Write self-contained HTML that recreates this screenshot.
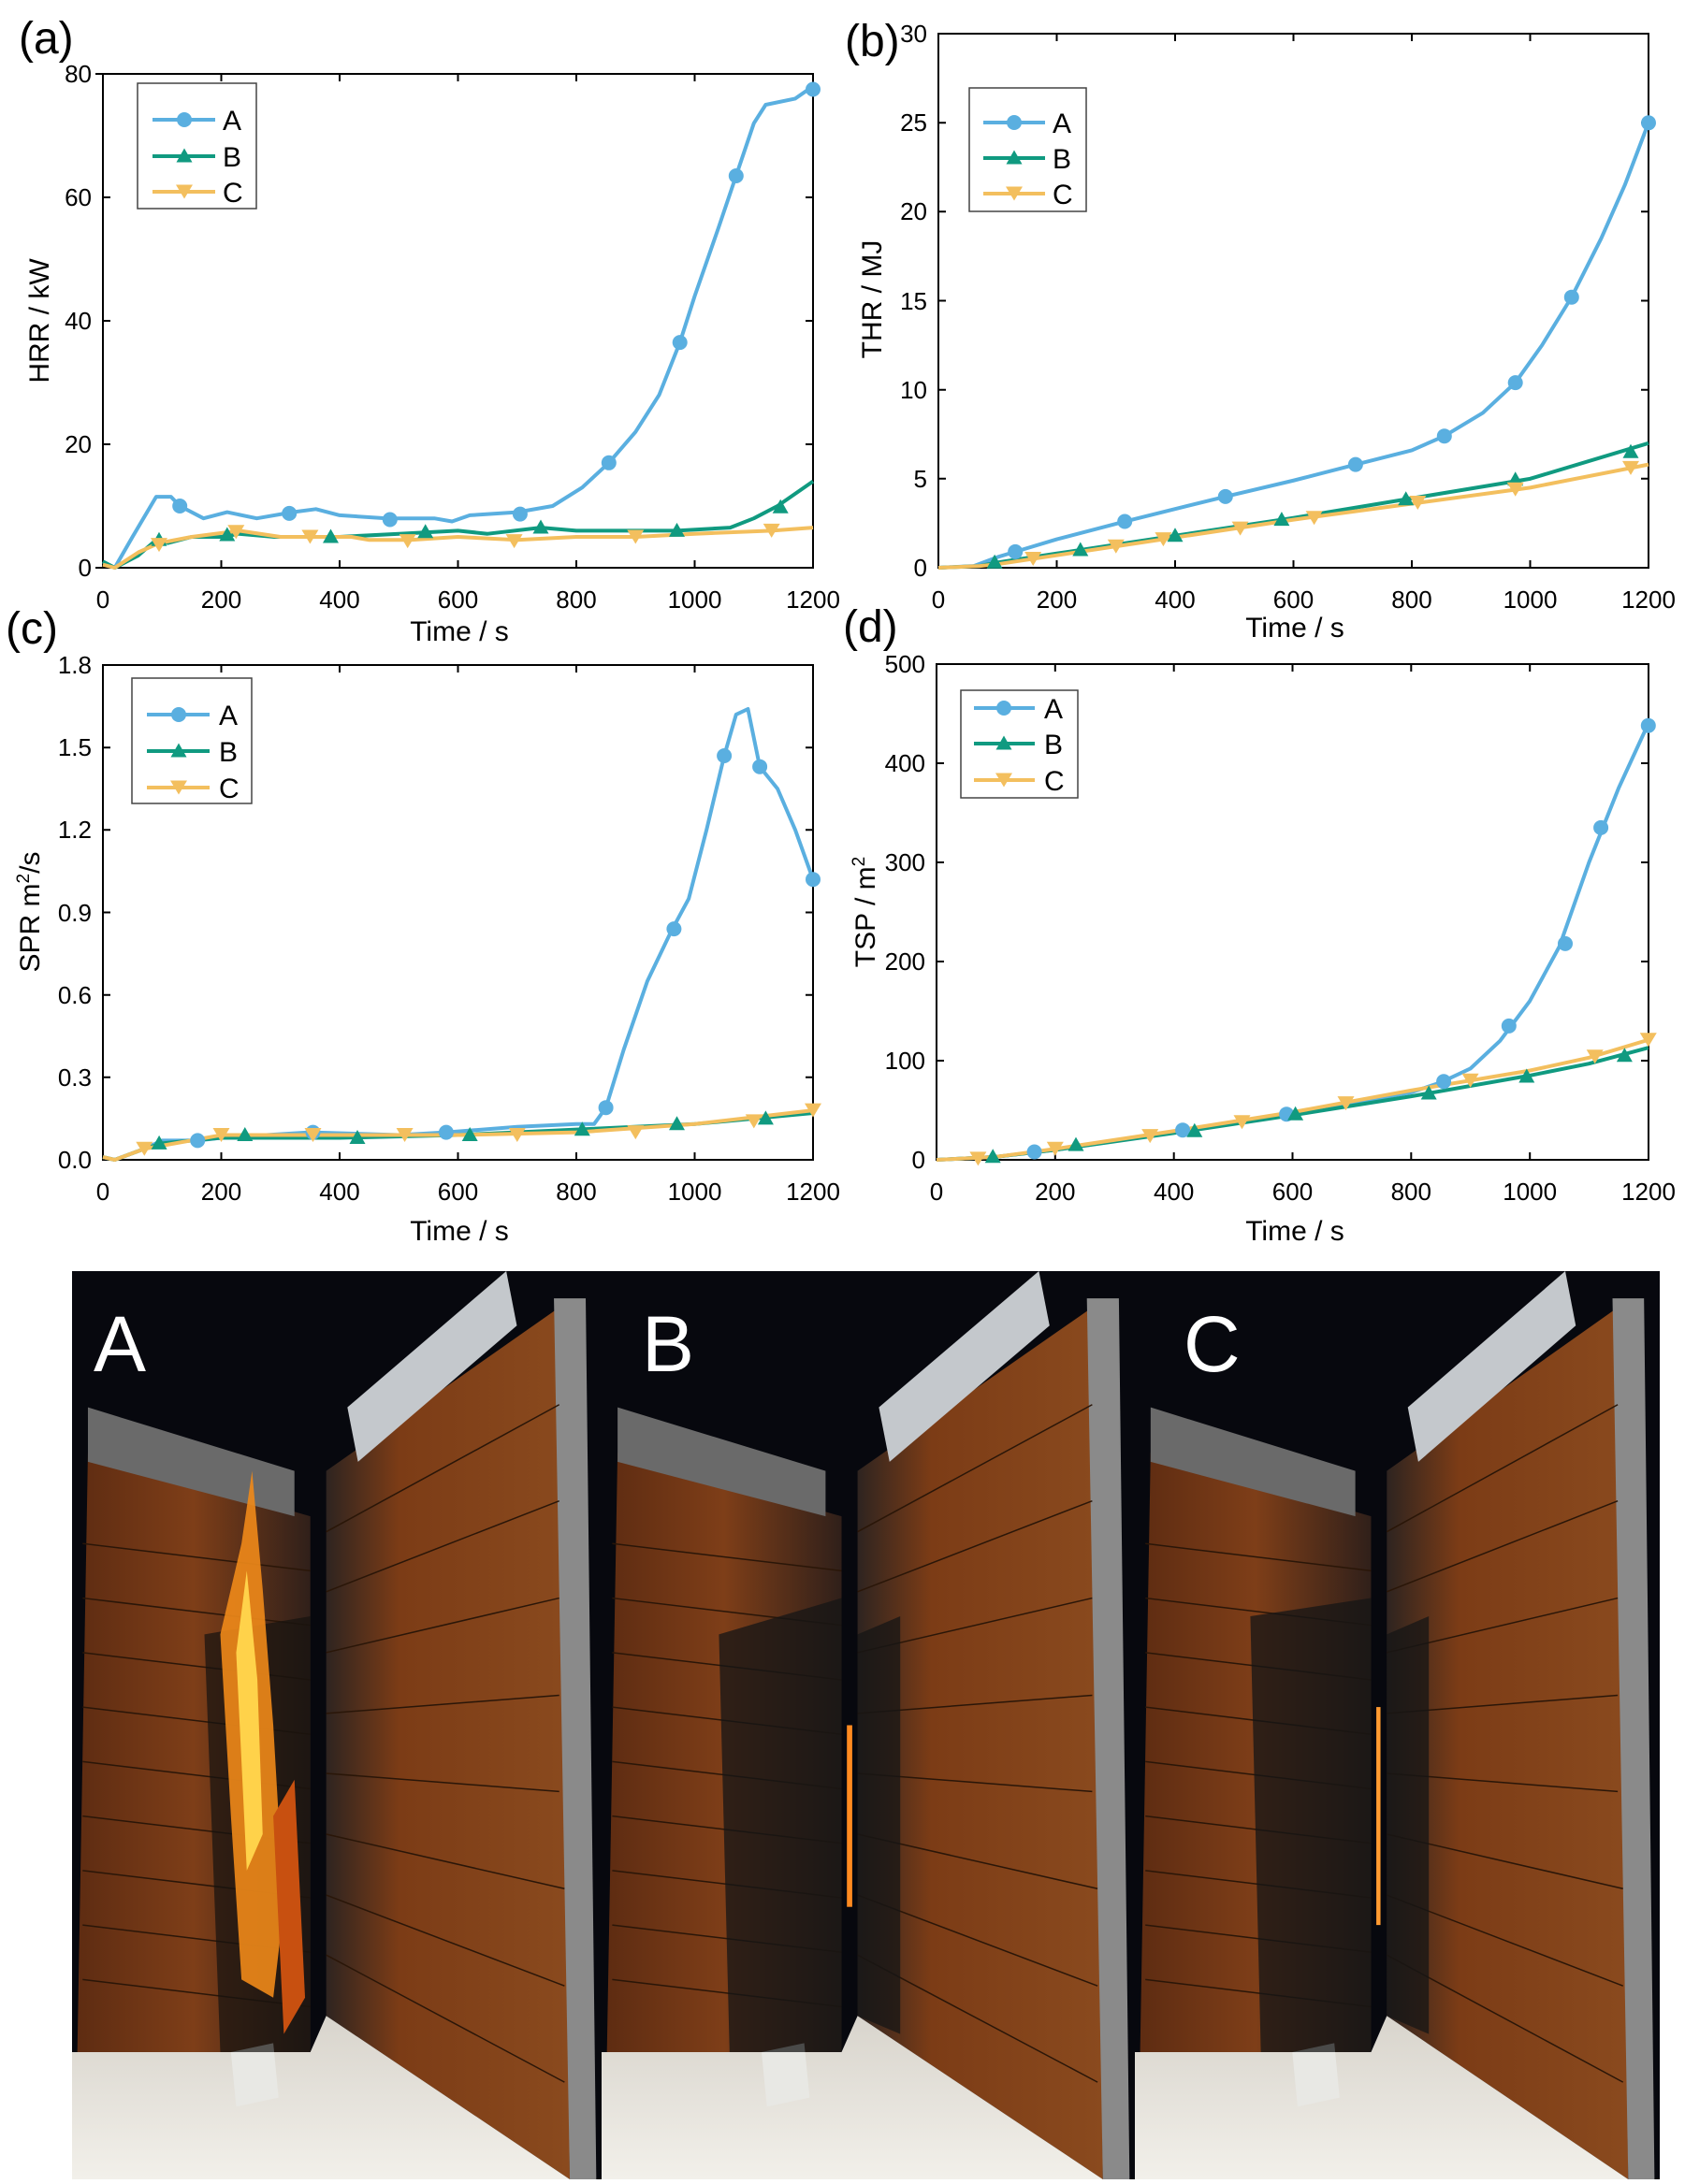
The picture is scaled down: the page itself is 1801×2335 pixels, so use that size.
<!DOCTYPE html>
<html><head><meta charset="utf-8"><style>
html,body{margin:0;padding:0;background:#fff;}
svg text{font-family:"Liberation Sans",sans-serif;}
</style></head><body>
<svg width="1801" height="2330" viewBox="0 0 1801 2330" xmlns="http://www.w3.org/2000/svg">
<defs>
<g id="mA"><circle r="8" fill="#5aafe0"/></g>
<g id="mB"><path d="M0,-8.5 L8.5,6.5 L-8.5,6.5Z" fill="#109a80"/></g>
<g id="mC"><path d="M0,7.5 L9,-7.5 L-9,-7.5Z" fill="#f3bf5e"/></g>
<linearGradient id="wl" x1="0" y1="0" x2="1" y2="0"><stop offset="0" stop-color="#5e2c12"/><stop offset="0.5" stop-color="#7e3e18"/><stop offset="1" stop-color="#30201a"/></linearGradient>
<linearGradient id="wr" x1="0" y1="0" x2="1" y2="0"><stop offset="0" stop-color="#2e2420"/><stop offset="0.3" stop-color="#7c3c16"/><stop offset="1" stop-color="#8a4a1e"/></linearGradient>
<linearGradient id="fl" x1="0" y1="0" x2="0" y2="1"><stop offset="0" stop-color="#d8d4cc"/><stop offset="1" stop-color="#f2f0ea"/></linearGradient>
<g id="room">
<rect x="0" y="0" width="100" height="100" fill="#07080e"/>
<polygon points="3,20 45,27 45,86 1,86" fill="url(#wl)"/>
<polygon points="48,22 92,4 94,100 48,82" fill="url(#wr)"/>
<polygon points="3,15 42,22 42,27 3,21" fill="#6a6a6a"/>
<polygon points="52,15 82,0 84,6 54,21" fill="#c4c8cc"/>
<polygon points="91,3 97,3 99,100 94,100" fill="#8a8a8a"/>
<polygon points="0,86 45,86 48,82 94,100 0,100" fill="url(#fl)"/>
<g stroke="#2a1608" stroke-width="1.5" fill="none">
<path vector-effect="non-scaling-stroke" d="M2,30L45,33M2,36L45,39M2,42L45,45M2,48L45,51M2,54L45,57M2,60L45,63M2,66L45,69M2,72L45,75M2,78L45,81"/>
<path vector-effect="non-scaling-stroke" d="M48,28.7L92,14.7M48,35.3L92,25.3M48,42L92,36M48,48.7L92,46.7M48,55.3L92,57.3M48,62L93,68M48,68.7L93,78.7M48,75.3L93,89.3"/>
</g>
<polygon points="30,86 38,85 39,91 31,92" fill="#e8e8e4"/>
</g>
</defs>

<!-- ===== (a) ===== -->
<text x="20" y="57" font-size="48">(a)</text>
<rect x="110" y="79" width="759" height="528" fill="none" stroke="#000" stroke-width="2"/>
<g stroke="#000" stroke-width="2">
<path d="M236.5,607v-8M363,607v-8M489.5,607v-8M616,607v-8M742.5,607v-8M236.5,79v8M363,79v8M489.5,79v8M616,79v8M742.5,79v8M110,475h8M110,343h8M110,211h8M869,475h-8M869,343h-8M869,211h-8M102,607h8M102,79h8"/>
</g>
<g font-size="26" text-anchor="middle"><text x="110" y="650">0</text><text x="236.5" y="650">200</text><text x="363" y="650">400</text><text x="489.5" y="650">600</text><text x="616" y="650">800</text><text x="742.5" y="650">1000</text><text x="869" y="650">1200</text></g>
<g font-size="26" text-anchor="end"><text x="98" y="616">0</text><text x="98" y="484">20</text><text x="98" y="352">40</text><text x="98" y="220">60</text><text x="98" y="88">80</text></g>
<text x="491" y="685" font-size="30" text-anchor="middle">Time  / s</text>
<text transform="translate(52,343) rotate(-90)" font-size="30" text-anchor="middle">HRR / kW</text>
<g fill="none" stroke-width="4" stroke-linejoin="round">
<polyline transform="translate(110,607) scale(0.6325,-6.6)" vector-effect="non-scaling-stroke" stroke="#5aafe0" points="0,1 20,0 50,5 90,11.5 115,11.5 130,10 170,8 210,9 260,8 320,9 360,9.5 400,8.5 480,8 560,8 590,7.5 620,8.5 700,9 760,10 810,13 855,17 900,22 940,28 975,36.5 1000,44 1040,55 1070,63.5 1100,72 1120,75 1170,76 1200,78"/>
<polyline transform="translate(110,607) scale(0.6325,-6.6)" vector-effect="non-scaling-stroke" stroke="#109a80" points="0,1 20,0 60,2 90,4.5 110,4 150,5 200,5 230,5.5 290,5 400,5 500,5.5 600,6 650,5.5 740,6.5 800,6 970,6 1060,6.5 1100,8 1140,10 1200,14"/>
<polyline transform="translate(110,607) scale(0.6325,-6.6)" vector-effect="non-scaling-stroke" stroke="#f3bf5e" points="0,0.5 20,0 60,2.5 95,4 150,5 230,6 300,5 350,5 420,5 450,4.5 520,4.5 600,5 700,4.5 800,5 900,5 1000,5.5 1130,6 1200,6.5"/>
</g>
<use href="#mA" x="192.2" y="541"/><use href="#mA" x="309.2" y="548.9"/><use href="#mA" x="416.8" y="555.5"/><use href="#mA" x="555.9" y="549.6"/><use href="#mA" x="650.8" y="494.8"/><use href="#mA" x="726.7" y="366.1"/><use href="#mA" x="786.8" y="188"/><use href="#mA" x="869" y="95.5"/>
<use href="#mB" x="170" y="577.3"/><use href="#mB" x="242.8" y="572"/><use href="#mB" x="353.5" y="574"/><use href="#mB" x="454.7" y="568.7"/><use href="#mB" x="578" y="564"/><use href="#mB" x="723.5" y="567.4"/><use href="#mB" x="834.2" y="542.3"/>
<use href="#mC" x="170" y="582.6"/><use href="#mC" x="252.3" y="568.7"/><use href="#mC" x="331.4" y="574"/><use href="#mC" x="435.7" y="578.6"/><use href="#mC" x="549.6" y="578.6"/><use href="#mC" x="679.3" y="574"/><use href="#mC" x="824.7" y="567.4"/>
<rect x="147" y="89" width="127" height="134" fill="#fff" stroke="#444" stroke-width="1.5"/>
<g stroke-width="4"><line x1="163" y1="128" x2="230" y2="128" stroke="#5aafe0"/><line x1="163" y1="167" x2="230" y2="167" stroke="#109a80"/><line x1="163" y1="205" x2="230" y2="205" stroke="#f3bf5e"/></g>
<use href="#mA" x="197" y="128"/><use href="#mB" x="197" y="167"/><use href="#mC" x="197" y="205"/>
<g font-size="30"><text x="238" y="139">A</text><text x="238" y="178">B</text><text x="238" y="216">C</text></g>

<!-- ===== (b) ===== -->
<text x="903" y="60" font-size="48">(b)</text>
<rect x="1003" y="36" width="759" height="571" fill="none" stroke="#000" stroke-width="2"/>
<g stroke="#000" stroke-width="2">
<path d="M1129.5,607v-8M1256,607v-8M1382.5,607v-8M1509,607v-8M1635.5,607v-8M1129.5,36v8M1256,36v8M1382.5,36v8M1509,36v8M1635.5,36v8M1003,511.8h8M1003,416.7h8M1003,321.5h8M1003,226.3h8M1003,131.2h8M1762,511.8h-8M1762,416.7h-8M1762,321.5h-8M1762,226.3h-8M1762,131.2h-8"/>
</g>
<g font-size="26" text-anchor="middle"><text x="1003" y="650">0</text><text x="1129.5" y="650">200</text><text x="1256" y="650">400</text><text x="1382.5" y="650">600</text><text x="1509" y="650">800</text><text x="1635.5" y="650">1000</text><text x="1762" y="650">1200</text></g>
<g font-size="26" text-anchor="end"><text x="991" y="616">0</text><text x="991" y="521">5</text><text x="991" y="426">10</text><text x="991" y="331">15</text><text x="991" y="235">20</text><text x="991" y="140">25</text><text x="991" y="45">30</text></g>
<text x="1384" y="681" font-size="30" text-anchor="middle">Time  / s</text>
<text transform="translate(942,320) rotate(-90)" font-size="30" text-anchor="middle">THR / MJ</text>
<g fill="none" stroke-width="4" stroke-linejoin="round">
<polyline transform="translate(1003,607) scale(0.6325,-19.03)" vector-effect="non-scaling-stroke" stroke="#5aafe0" points="0,0 60,0.1 100,0.6 130,0.9 200,1.6 315,2.6 485,4 600,4.9 705,5.8 800,6.6 855,7.4 920,8.7 975,10.4 1020,12.5 1070,15.2 1120,18.5 1160,21.5 1200,25"/>
<polyline transform="translate(1003,607) scale(0.6325,-19.03)" vector-effect="non-scaling-stroke" stroke="#109a80" points="0,0 70,0.1 100,0.3 200,0.8 400,1.8 600,2.8 800,3.9 1000,5 1200,7"/>
<polyline transform="translate(1003,607) scale(0.6325,-19.03)" vector-effect="non-scaling-stroke" stroke="#f3bf5e" points="0,0 70,0.1 100,0.2 200,0.7 400,1.7 600,2.7 800,3.6 1000,4.5 1200,5.8"/>
</g>
<use href="#mA" x="1085.2" y="589.9"/><use href="#mA" x="1202.2" y="557.5"/><use href="#mA" x="1309.8" y="530.9"/><use href="#mA" x="1448.9" y="496.6"/><use href="#mA" x="1543.8" y="466.2"/><use href="#mA" x="1619.7" y="409.1"/><use href="#mA" x="1679.8" y="317.7"/><use href="#mA" x="1762" y="131.3"/>
<use href="#mB" x="1063.1" y="601.3"/><use href="#mB" x="1154.8" y="588"/><use href="#mB" x="1256" y="572.7"/><use href="#mB" x="1369.9" y="555.6"/><use href="#mB" x="1502.7" y="533.7"/><use href="#mB" x="1619.7" y="512.8"/><use href="#mB" x="1743" y="483.3"/>
<use href="#mC" x="1104.2" y="597.5"/><use href="#mC" x="1192.8" y="584.2"/><use href="#mC" x="1243.4" y="576.6"/><use href="#mC" x="1325.6" y="565.1"/><use href="#mC" x="1404.6" y="553.7"/><use href="#mC" x="1515.3" y="537.5"/><use href="#mC" x="1619.7" y="523.3"/><use href="#mC" x="1743" y="500.4"/>
<rect x="1036" y="94" width="125" height="132" fill="#fff" stroke="#444" stroke-width="1.5"/>
<g stroke-width="4"><line x1="1051" y1="131" x2="1117" y2="131" stroke="#5aafe0"/><line x1="1051" y1="169" x2="1117" y2="169" stroke="#109a80"/><line x1="1051" y1="207" x2="1117" y2="207" stroke="#f3bf5e"/></g>
<use href="#mA" x="1084" y="131"/><use href="#mB" x="1084" y="169"/><use href="#mC" x="1084" y="207"/>
<g font-size="30"><text x="1125" y="142">A</text><text x="1125" y="180">B</text><text x="1125" y="218">C</text></g>

<!-- ===== (c) ===== -->
<text x="6" y="688" font-size="48">(c)</text>
<rect x="110" y="711" width="759" height="529" fill="none" stroke="#000" stroke-width="2"/>
<g stroke="#000" stroke-width="2">
<path d="M236.5,1240v-8M363,1240v-8M489.5,1240v-8M616,1240v-8M742.5,1240v-8M236.5,711v8M363,711v8M489.5,711v8M616,711v8M742.5,711v8M110,1151.8h8M110,1063.7h8M110,975.5h8M110,887.3h8M110,799.2h8M869,1151.8h-8M869,1063.7h-8M869,975.5h-8M869,887.3h-8M869,799.2h-8"/>
</g>
<g font-size="26" text-anchor="middle"><text x="110" y="1283">0</text><text x="236.5" y="1283">200</text><text x="363" y="1283">400</text><text x="489.5" y="1283">600</text><text x="616" y="1283">800</text><text x="742.5" y="1283">1000</text><text x="869" y="1283">1200</text></g>
<g font-size="26" text-anchor="end"><text x="98" y="1249">0.0</text><text x="98" y="1161">0.3</text><text x="98" y="1073">0.6</text><text x="98" y="985">0.9</text><text x="98" y="896">1.2</text><text x="98" y="808">1.5</text><text x="98" y="720">1.8</text></g>
<text x="491" y="1326" font-size="30" text-anchor="middle">Time  / s</text>
<text transform="translate(42,975) rotate(-90)" font-size="30" text-anchor="middle">SPR m<tspan font-size="19" dy="-11">2</tspan><tspan dy="11">/s</tspan></text>
<g fill="none" stroke-width="4" stroke-linejoin="round">
<polyline transform="translate(110,1240) scale(0.6325,-293.9)" vector-effect="non-scaling-stroke" stroke="#5aafe0" points="0,0.01 20,0 70,0.04 100,0.07 160,0.07 200,0.08 350,0.1 500,0.09 580,0.1 700,0.12 800,0.13 830,0.13 850,0.19 880,0.4 920,0.65 960,0.83 990,0.95 1020,1.2 1050,1.47 1070,1.62 1090,1.64 1110,1.43 1140,1.35 1170,1.2 1200,1.02"/>
<polyline transform="translate(110,1240) scale(0.6325,-293.9)" vector-effect="non-scaling-stroke" stroke="#109a80" points="0,0.01 20,0 70,0.04 100,0.06 200,0.08 400,0.08 600,0.09 800,0.11 1000,0.13 1200,0.17"/>
<polyline transform="translate(110,1240) scale(0.6325,-293.9)" vector-effect="non-scaling-stroke" stroke="#f3bf5e" points="0,0.01 20,0 70,0.04 200,0.09 400,0.09 600,0.09 800,0.1 1000,0.13 1200,0.18"/>
</g>
<use href="#mA" x="211.2" y="1219.4"/><use href="#mA" x="334.5" y="1210.6"/><use href="#mA" x="476.9" y="1210.6"/><use href="#mA" x="647.6" y="1184.2"/><use href="#mA" x="720.4" y="993.1"/><use href="#mA" x="774.1" y="808"/><use href="#mA" x="812.1" y="819.7"/><use href="#mA" x="869" y="940.2"/>
<use href="#mB" x="170.1" y="1222.4"/><use href="#mB" x="261.8" y="1213.5"/><use href="#mB" x="382" y="1216.5"/><use href="#mB" x="502.2" y="1213.5"/><use href="#mB" x="622.3" y="1207.7"/><use href="#mB" x="723.5" y="1201.8"/><use href="#mB" x="818.4" y="1195.9"/>
<use href="#mC" x="154.3" y="1228.2"/><use href="#mC" x="236.5" y="1213.5"/><use href="#mC" x="334.5" y="1213.5"/><use href="#mC" x="432.6" y="1213.5"/><use href="#mC" x="552.8" y="1213.5"/><use href="#mC" x="679.3" y="1210.6"/><use href="#mC" x="805.8" y="1198.9"/><use href="#mC" x="869" y="1187.1"/>
<rect x="141" y="725" width="128" height="134" fill="#fff" stroke="#444" stroke-width="1.5"/>
<g stroke-width="4"><line x1="157" y1="764" x2="224" y2="764" stroke="#5aafe0"/><line x1="157" y1="803" x2="224" y2="803" stroke="#109a80"/><line x1="157" y1="842" x2="224" y2="842" stroke="#f3bf5e"/></g>
<use href="#mA" x="191" y="764"/><use href="#mB" x="191" y="803"/><use href="#mC" x="191" y="842"/>
<g font-size="30"><text x="234" y="775">A</text><text x="234" y="814">B</text><text x="234" y="853">C</text></g>

<!-- ===== (d) ===== -->
<text x="901" y="686" font-size="48">(d)</text>
<rect x="1001" y="710" width="761" height="530" fill="none" stroke="#000" stroke-width="2"/>
<g stroke="#000" stroke-width="2">
<path d="M1127.8,1240v-8M1254.7,1240v-8M1381.5,1240v-8M1508.3,1240v-8M1635.2,1240v-8M1127.8,710v8M1254.7,710v8M1381.5,710v8M1508.3,710v8M1635.2,710v8M1001,1134h8M1001,1028h8M1001,922h8M1001,816h8M1762,1134h-8M1762,1028h-8M1762,922h-8M1762,816h-8"/>
</g>
<g font-size="26" text-anchor="middle"><text x="1001" y="1283">0</text><text x="1127.8" y="1283">200</text><text x="1254.7" y="1283">400</text><text x="1381.5" y="1283">600</text><text x="1508.3" y="1283">800</text><text x="1635.2" y="1283">1000</text><text x="1762" y="1283">1200</text></g>
<g font-size="26" text-anchor="end"><text x="989" y="1249">0</text><text x="989" y="1143">100</text><text x="989" y="1037">200</text><text x="989" y="931">300</text><text x="989" y="825">400</text><text x="989" y="719">500</text></g>
<text x="1384" y="1326" font-size="30" text-anchor="middle">Time  / s</text>
<text transform="translate(935,975) rotate(-90)" font-size="30" text-anchor="middle">TSP / m<tspan font-size="19" dy="-11">2</tspan></text>
<g fill="none" stroke-width="4" stroke-linejoin="round">
<polyline transform="translate(1001,1240) scale(0.634,-1.06)" vector-effect="non-scaling-stroke" stroke="#5aafe0" points="0,0 100,3 200,10 400,28 600,47 800,68 850,78 900,92 950,120 1000,160 1050,215 1100,300 1150,375 1200,440"/>
<polyline transform="translate(1001,1240) scale(0.634,-1.06)" vector-effect="non-scaling-stroke" stroke="#109a80" points="0,0 100,3 200,10 400,27 600,45 800,64 1000,85 1100,97 1200,113"/>
<polyline transform="translate(1001,1240) scale(0.634,-1.06)" vector-effect="non-scaling-stroke" stroke="#f3bf5e" points="0,0 100,3 200,11 400,29 600,48 800,70 1000,90 1100,103 1200,121"/>
</g>
<use href="#mA" x="1105.6" y="1231.5"/><use href="#mA" x="1264.1" y="1208.2"/><use href="#mA" x="1375.1" y="1191.2"/><use href="#mA" x="1543.1" y="1156.3"/><use href="#mA" x="1612.8" y="1096.9"/><use href="#mA" x="1673" y="1008.9"/><use href="#mA" x="1711.1" y="884.9"/><use href="#mA" x="1761.8" y="775.7"/>
<use href="#mB" x="1061.2" y="1236.8"/><use href="#mB" x="1150" y="1224.1"/><use href="#mB" x="1276.8" y="1209.3"/><use href="#mB" x="1384.6" y="1191.2"/><use href="#mB" x="1527.2" y="1169"/><use href="#mB" x="1631.8" y="1151"/><use href="#mB" x="1736.4" y="1128.7"/>
<use href="#mC" x="1045.4" y="1238.9"/><use href="#mC" x="1127.8" y="1228.3"/><use href="#mC" x="1229.2" y="1214.6"/><use href="#mC" x="1327.5" y="1199.7"/><use href="#mC" x="1438.5" y="1179.6"/><use href="#mC" x="1571.6" y="1155.2"/><use href="#mC" x="1704.7" y="1129.8"/><use href="#mC" x="1761.8" y="1111.7"/>
<rect x="1027" y="738" width="125" height="115" fill="#fff" stroke="#444" stroke-width="1.5"/>
<g stroke-width="4"><line x1="1041" y1="757" x2="1106" y2="757" stroke="#5aafe0"/><line x1="1041" y1="795" x2="1106" y2="795" stroke="#109a80"/><line x1="1041" y1="834" x2="1106" y2="834" stroke="#f3bf5e"/></g>
<use href="#mA" x="1073" y="757"/><use href="#mB" x="1073" y="795"/><use href="#mC" x="1073" y="834"/>
<g font-size="30"><text x="1116" y="768">A</text><text x="1116" y="806">B</text><text x="1116" y="845">C</text></g>

<!-- ===== photos ===== -->
<svg x="77" y="1359" width="566" height="971" viewBox="0 0 100 100" preserveAspectRatio="none">
<use href="#room"/>
<polygon points="25,40 45,38 45,86 28,86" fill="#151210" opacity="0.7"/>
<polygon points="28,40 32,30 34,22 36,35 38,50 40,70 38,80 32,78 30,60" fill="#f08a1a" opacity="0.9"/>
<polygon points="31,42 33,33 35,45 36,62 33,66" fill="#ffd24a"/>
<polygon points="38,60 42,56 44,80 40,84" fill="#c85010"/>
</svg>
<svg x="643" y="1359" width="570" height="971" viewBox="0 0 100 100" preserveAspectRatio="none">
<use href="#room"/>
<polygon points="22,40 45,36 45,86 24,86" fill="#151515" opacity="0.75"/>
<polygon points="48,40 56,38 56,84 48,82" fill="#151515" opacity="0.75"/>
<rect x="46" y="50" width="1" height="20" fill="#ff8a20"/>
</svg>
<svg x="1213" y="1359" width="561" height="971" viewBox="0 0 100 100" preserveAspectRatio="none">
<use href="#room"/>
<polygon points="22,38 45,36 45,86 24,86" fill="#151515" opacity="0.75"/>
<polygon points="48,40 56,38 56,84 48,82" fill="#151515" opacity="0.75"/>
<rect x="46" y="48" width="0.8" height="24" fill="#ff9a30"/>
</svg>
<g fill="#fff" font-size="84"><text x="100" y="1466">A</text><text x="686" y="1466">B</text><text x="1265" y="1466">C</text></g>
</svg>
</body></html>
